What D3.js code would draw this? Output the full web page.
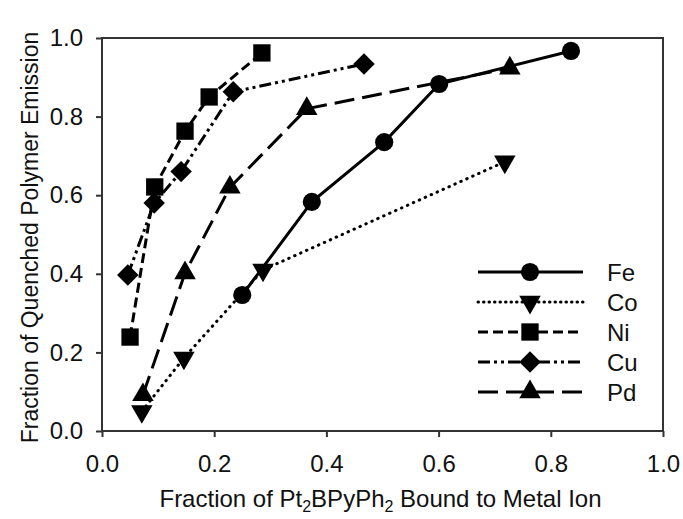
<!DOCTYPE html>
<meta charset="utf-8">
<head>
    <title>Fraction of Quenched Polymer Emission</title>
    <script type="text/javascript" src="https://d3js.org/d3.v7.min.js"></script>
    <style type="text/css">
        body { margin: 0; background: #fff; }
        text { font-family: "Liberation Sans", Arial, sans-serif; fill: #111; }
    </style>
</head>
<body>
    <div id="chart"></div>
    <script>
        // data
        var metals = ["Fe", "Co", "Ni", "Cu", "Pd"];
        var feX = [0.25, 0.374, 0.503, 0.601, 0.836];
        var feY = [0.346, 0.583, 0.735, 0.883, 0.967];
        var coX = [0.071, 0.146, 0.287, 0.718];
        var coY = [0.05, 0.186, 0.41, 0.685];
        var niX = [0.05, 0.094, 0.148, 0.191, 0.285];
        var niY = [0.239, 0.621, 0.763, 0.85, 0.962];
        var cuX = [0.046, 0.093, 0.141, 0.234, 0.467];
        var cuY = [0.397, 0.58, 0.66, 0.863, 0.934];
        var pdX = [0.073, 0.148, 0.228, 0.365, 0.727];
        var pdY = [0.092, 0.402, 0.62, 0.82, 0.923];
        var xTicks = [0, 0.2, 0.4, 0.6, 0.8, 1.0];
        var yTicks = [0, 0.2, 0.4, 0.6, 0.8, 1.0];

        var width = 683, height = 519;
        var margin = {top: 38, right: 20, bottom: 88, left: 102};
        var plotW = 561, plotH = 393;

        var svg = d3.select("#chart").append("svg")
            .attr("width", width)
            .attr("height", height);

        var x = d3.scaleLinear().domain([0, 1]).range([margin.left, margin.left + plotW]);
        var y = d3.scaleLinear().domain([0, 1]).range([margin.top + plotH, margin.top]);

        // series setup: marker + dash style
        var styles = {
            Fe: {sym: d3.symbolCircle, size: 260, dash: null, rot: 0, cap: "butt"},
            Co: {sym: d3.symbolTriangle, size: 200, dash: "0.5,6", rot: 180, cap: "round"},
            Ni: {sym: d3.symbolSquare, size: 300, dash: "10,5", rot: 0, cap: "butt"},
            Cu: {sym: d3.symbolSquare, size: 230, dash: "12,4,3,4,3,4", rot: 45, cap: "butt"},
            Pd: {sym: d3.symbolTriangle, size: 200, dash: "20,8", rot: 0, cap: "butt"}
        };
        var series = [
            {name: "Fe", xs: feX, ys: feY},
            {name: "Co", xs: coX, ys: coY},
            {name: "Ni", xs: niX, ys: niY},
            {name: "Cu", xs: cuX, ys: cuY},
            {name: "Pd", xs: pdX, ys: pdY}
        ];

        var line = d3.line().x(function(d){ return x(d[0]); }).y(function(d){ return y(d[1]); });

        series.forEach(function(s){
            var pts = s.xs.map(function(v, i){ return [v, s.ys[i]]; });
            var st = styles[s.name];
            svg.append("path")
                .datum(pts)
                .attr("d", line)
                .attr("fill", "none")
                .attr("stroke", "#000")
                .attr("stroke-width", 3)
                .attr("stroke-linecap", st.cap)
                .attr("stroke-dasharray", st.dash);
            svg.selectAll(null)
                .data(pts)
                .enter()
                .append("path")
                .attr("d", d3.symbol().type(st.sym).size(st.size))
                .attr("transform", function(d){
                    return "translate(" + x(d[0]) + "," + y(d[1]) + ") rotate(" + st.rot + ")";
                })
                .attr("fill", "#000");
        });

        // axes
        var xAxis = svg.append("g")
            .attr("transform", "translate(0," + (margin.top + plotH) + ")")
            .call(d3.axisBottom(x).tickValues(xTicks).tickFormat(d3.format(".1f")).tickSize(6).tickPadding(18));
        var yAxis = svg.append("g")
            .attr("transform", "translate(" + margin.left + ",0)")
            .call(d3.axisLeft(y).tickValues(yTicks).tickFormat(d3.format(".1f")).tickSize(6).tickPadding(13));
        [xAxis, yAxis].forEach(function(g){
            g.select(".domain").remove();
            g.selectAll("line").attr("stroke", "#333").attr("stroke-width", 2);
            g.selectAll("text").style("font-size", "24px")
                .style("font-family", "'Liberation Sans', Arial, sans-serif").attr("fill", "#111");
        });

        // frame
        svg.append("rect")
            .attr("x", margin.left)
            .attr("y", margin.top)
            .attr("width", plotW)
            .attr("height", plotH)
            .attr("fill", "none")
            .attr("stroke", "#333")
            .attr("stroke-width", 2);

        // axis titles
        var xt = svg.append("text")
            .attr("x", margin.left + plotW / 2 - 2)
            .attr("y", 507)
            .attr("text-anchor", "middle")
            .style("font-size", "24px");
        xt.append("tspan").text("Fraction of Pt");
        xt.append("tspan").attr("dy", 5).style("font-size", "16px").text("2");
        xt.append("tspan").attr("dy", -5).text("BPyPh");
        xt.append("tspan").attr("dy", 5).style("font-size", "16px").text("2");
        xt.append("tspan").attr("dy", -5).text(" Bound to Metal Ion");

        svg.append("text")
            .attr("transform", "translate(38," + (margin.top + plotH / 2 + 3) + ") rotate(-90)")
            .attr("text-anchor", "middle")
            .style("font-size", "23px")
            .text("Fraction of Quenched Polymer Emission");

        // legend
        var legX1 = 478, legX2 = 583, legM = 530, legY0 = 272, legStep = 30;
        metals.forEach(function(m, i){
            var st = styles[m];
            var yy = legY0 + i * legStep;
            svg.append("line")
                .attr("x1", legX1).attr("x2", legX2)
                .attr("y1", yy).attr("y2", yy)
                .attr("stroke", "#000")
                .attr("stroke-width", 3)
                .attr("stroke-linecap", st.cap)
                .attr("stroke-dasharray", m === "Co" ? "0.5,5" : st.dash);
            svg.append("path")
                .attr("d", d3.symbol().type(st.sym).size(st.size))
                .attr("transform", "translate(" + legM + "," + yy + ") rotate(" + st.rot + ")")
                .attr("fill", "#000");
            svg.append("text")
                .attr("x", 607)
                .attr("y", yy + 8.5)
                .style("font-size", "24px")
                .text(m);
        });
    </script>
</body>
</html>
